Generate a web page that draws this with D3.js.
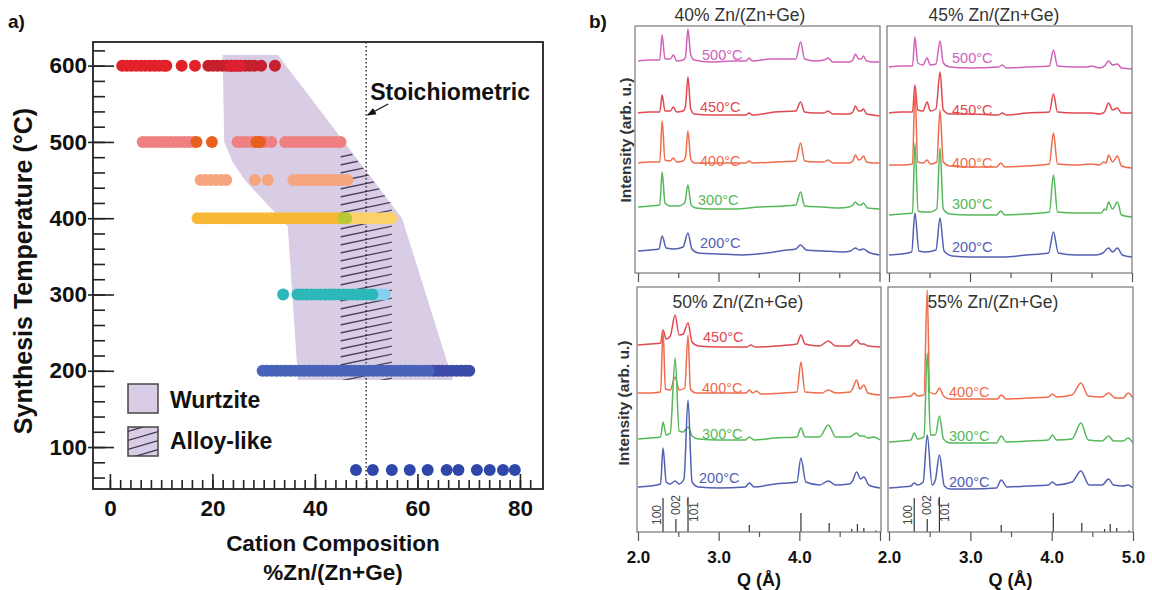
<!DOCTYPE html>
<html><head><meta charset="utf-8">
<script src="https://cdn.jsdelivr.net/npm/d3@7"></script>
<style>body{margin:0;background:#fff}svg{display:block}</style>
</head><body><svg id="c" width="1152" height="590"></svg>
<script>
// ---------------- DATA: panel a) ----------------
const row600Bright = [2.4,3.3,4.2,5.1,6.0,6.9,7.8,8.7,9.6,10.5,11.0,14.0,16.6];
const row600Dark = [19.2,20.1,21.0,21.9,22.8,23.7,24.6,25.5,26.4,27.3,28.2,29.5,32.2];
const row600Mid = [23.5,24.4,25.3];
const row500Salmon = [6.4,7.3,8.2,9.1,10.0,10.9,11.8,12.7,13.6,14.5,15.4,16.3,24.9,25.8,26.7,27.6,28.5,29.4,30.3,31.5,34.2,35.1,36.0,36.9,37.8,38.7,39.6,40.5,41.4,42.3,43.2,44.1,45.0];
const row500Orange = [16.9,19.9,28.6,29.3];
const row450 = [17.7,18.7,19.7,20.7,21.7,22.7,28.3,30.8,35.8,36.7,37.6,38.5,39.4,40.3,41.2,42.1,43.0,43.9,44.8,45.7,46.3];
const row400Gold = [17.1,18.0,18.9,19.8,20.7,21.6,22.5,23.4,24.3,25.2,26.1,27.0,27.9,28.8,29.7,30.6,31.5,32.4,33.3,34.2,35.1,36.0,36.9,37.8,38.7,39.6,40.5,41.4,42.3,43.2,44.1,45.0];
const row400Lime = [45.5,46.1];
const row400Pale = [46.8,47.7,48.6,49.5,50.4,51.3,52.2,53.1,54.0,54.9];
const row300Sky = [52.0,52.8,53.6];
const row300Teal = [33.8,36.6,37.5,38.4,39.3,40.2,41.1,42.0,42.9,43.8,44.7,45.6,46.5,47.4,48.3,49.2,50.1,51.2];
const row200Mid = [29.8,30.7,31.6,32.5,33.4,34.3,35.2,36.1,37.0,37.9,38.8,39.7,40.6,41.5,42.4,43.3,44.2,45.1,46.0,46.9,47.8,48.7,49.6,50.5,51.4,52.3,53.2,54.1,55.0,55.9,56.8,57.7,58.6,59.5,60.4,61.3,62.2];
const row200Deep = [63.1,64.0,64.9,65.8,66.7,67.6,68.5,69.4,70.1];
const row70 = [48.0,51.3,55.0,58.5,62.0,65.7,68.0,71.6,74.1,76.7,79.0];

const wurtziteComp = [22.0,32.8,57.0,66.9,36.7,34.7,26.3,24.0,22.3];
const wurtziteTemp = [614,614,400,188,188,389,450,473,500];
const alloyComp = [45,46.8,55,55,45];
const alloyTemp = [488,488,418,188,188];
const stoichiometric = 50;

const xTicksMajor = [0,20,40,60,80];
const yTicksMajor = [100,200,300,400,500,600];

// ---------------- DATA: panel b) ----------------
const TL_500 = [[2.00,212],[2.15,213],[2.27,213],[2.30,238],[2.335,214],[2.40,214],[2.44,218],[2.48,212],[2.56,213],[2.59,216],[2.62,244],[2.655,218],[2.70,213],[2.90,211],[3.20,212],[3.34,212],[3.38,215],[3.42,212],[3.65,214],[3.96,214],[4.02,231],[4.07,214],[4.20,212],[4.31,213],[4.36,215],[4.42,211],[4.62,211],[4.67,213],[4.70,219],[4.74,214],[4.77,214],[4.80,217],[4.84,212],[4.92,211],[5.00,211]];
const TL_450 = [[2.00,160],[2.15,161],[2.27,161],[2.30,178],[2.335,162],[2.40,162],[2.44,166],[2.48,161],[2.56,162],[2.59,167],[2.62,196],[2.655,164],[2.70,159],[2.90,158],[3.20,158],[3.34,158],[3.38,160],[3.42,158],[3.70,161],[3.96,162],[4.02,171],[4.07,161],[4.20,160],[4.31,160],[4.36,162],[4.42,159],[4.62,159],[4.67,161],[4.70,167],[4.74,162],[4.77,162],[4.80,164],[4.84,159],[4.92,158],[5.00,157]];
const TL_400 = [[2.00,110],[2.15,111],[2.27,111],[2.30,152],[2.335,113],[2.40,112],[2.44,115],[2.48,111],[2.56,112],[2.59,116],[2.62,142],[2.655,114],[2.70,110],[2.90,110],[3.20,110],[3.34,110],[3.38,112],[3.42,110],[3.70,111],[3.96,112],[4.02,130],[4.07,112],[4.20,111],[4.31,111],[4.36,113],[4.42,110],[4.62,110],[4.67,112],[4.70,118],[4.74,113],[4.77,114],[4.80,117],[4.84,111],[4.92,110],[5.00,110]];
const TL_300 = [[2.00,66],[2.15,67],[2.27,68],[2.30,101],[2.335,70],[2.40,67],[2.50,67],[2.58,70],[2.62,88],[2.66,68],[2.72,65],[2.90,64],[3.20,64],[3.50,66],[3.80,67],[3.96,68],[4.02,81],[4.07,67],[4.30,66],[4.50,65],[4.62,66],[4.67,68],[4.70,71],[4.74,68],[4.77,68],[4.80,70],[4.85,65],[5.00,64]];
const TL_200 = [[2.00,22],[2.15,23],[2.26,24],[2.30,37],[2.35,25],[2.45,24],[2.56,26],[2.62,40],[2.67,24],[2.75,20],[3.00,19],[3.30,18],[3.60,20],[3.85,23],[3.96,24],[4.02,28],[4.09,23],[4.30,22],[4.55,21],[4.64,22],[4.70,25],[4.75,23],[4.80,24],[4.86,21],[5.00,18]];

const TR_500 = [[2.00,206],[2.15,207],[2.29,207],[2.32,236],[2.355,210],[2.42,208],[2.47,215],[2.51,208],[2.58,209],[2.63,232],[2.67,210],[2.75,206],[3.00,205],[3.35,206],[3.40,208],[3.45,205],[3.70,206],[3.98,207],[4.03,223],[4.08,207],[4.30,206],[4.45,206],[4.50,207],[4.60,205],[4.66,207],[4.71,212],[4.76,208],[4.82,209],[4.87,205],[5.00,204]];
const TR_450 = [[2.00,160],[2.15,161],[2.29,161],[2.32,188],[2.355,163],[2.42,162],[2.47,171],[2.51,162],[2.58,164],[2.63,201],[2.67,163],[2.75,159],[3.00,159],[3.35,158],[3.40,160],[3.45,158],[3.70,160],[3.98,161],[4.03,179],[4.08,161],[4.30,160],[4.50,160],[4.60,159],[4.66,161],[4.71,170],[4.76,163],[4.82,165],[4.87,160],[5.00,160]];
const TR_400 = [[2.00,108],[2.15,108],[2.29,109],[2.32,183],[2.355,111],[2.42,110],[2.47,113],[2.51,109],[2.59,111],[2.63,163],[2.67,111],[2.75,107],[3.00,106],[3.33,106],[3.38,110],[3.43,106],[3.70,107],[3.98,109],[4.03,140],[4.08,109],[4.30,108],[4.50,109],[4.60,108],[4.65,111],[4.68,110],[4.71,118],[4.76,111],[4.82,117],[4.87,107],[5.00,105]];
const TR_300 = [[2.00,58],[2.15,59],[2.29,60],[2.32,130],[2.36,62],[2.42,61],[2.50,61],[2.59,64],[2.63,125],[2.67,64],[2.75,59],[3.00,58],[3.33,58],[3.38,62],[3.43,58],[3.70,59],[3.98,61],[4.03,98],[4.08,61],[4.30,60],[4.50,60],[4.62,60],[4.66,64],[4.68,63],[4.71,71],[4.76,64],[4.82,71],[4.87,58],[5.00,56]];
const TR_200 = [[2.00,18],[2.15,19],[2.28,21],[2.32,60],[2.37,22],[2.45,21],[2.58,23],[2.63,55],[2.68,22],[2.78,17],[3.00,16],[3.40,16],[3.70,18],[3.97,20],[4.03,41],[4.09,20],[4.30,18],[4.55,18],[4.64,20],[4.71,25],[4.76,21],[4.82,25],[4.88,18],[5.00,16]];

const BL_450 = [[2.00,187],[2.15,188],[2.28,189],[2.31,202],[2.35,193],[2.40,196],[2.46,217],[2.51,197],[2.56,198],[2.62,209],[2.67,190],[2.75,186],[3.00,185],[3.35,185],[3.40,187],[3.45,185],[3.70,186],[3.97,188],[4.02,197],[4.07,188],[4.25,186],[4.36,191],[4.45,186],[4.62,186],[4.71,192],[4.76,188],[4.80,188],[4.85,186],[5.00,185]];
const BL_400 = [[2.00,139],[2.15,139],[2.28,140],[2.31,202],[2.34,143],[2.40,142],[2.46,155],[2.51,142],[2.58,144],[2.62,197],[2.65,143],[2.72,139],[3.00,139],[3.34,139],[3.38,142],[3.42,139],[3.47,141],[3.52,138],[3.80,139],[3.97,140],[4.02,170],[4.07,140],[4.28,139],[4.36,142],[4.45,139],[4.63,140],[4.66,143],[4.71,152],[4.75,143],[4.80,147],[4.85,139],[5.00,137]];
const BL_300 = [[2.00,93],[2.15,94],[2.28,95],[2.31,110],[2.35,97],[2.40,99],[2.46,174],[2.51,101],[2.56,100],[2.62,105],[2.67,96],[2.75,93],[3.00,92],[3.33,92],[3.38,95],[3.44,92],[3.70,94],[3.97,95],[4.02,104],[4.07,95],[4.25,95],[4.36,107],[4.45,95],[4.62,95],[4.71,99],[4.75,96],[4.80,96],[4.85,94],[4.92,95],[5.00,92]];
const BL_200 = [[2.00,45],[2.15,46],[2.28,48],[2.31,84],[2.35,50],[2.40,48],[2.46,51],[2.51,48],[2.57,53],[2.62,132],[2.67,50],[2.75,45],[3.00,44],[3.33,45],[3.38,49],[3.44,45],[3.70,48],[3.97,50],[4.02,74],[4.08,50],[4.25,47],[4.36,51],[4.45,47],[4.62,48],[4.66,51],[4.71,60],[4.76,53],[4.80,55],[4.86,47],[5.00,44]];

const BR_400 = [[2.00,134],[2.15,135],[2.27,136],[2.31,139],[2.35,136],[2.43,137],[2.47,242],[2.50,140],[2.57,138],[2.62,144],[2.67,136],[2.75,133],[3.00,133],[3.33,133],[3.38,137],[3.44,133],[3.70,134],[3.96,135],[4.01,138],[4.06,135],[4.25,137],[4.36,149],[4.45,136],[4.62,135],[4.70,139],[4.78,134],[4.88,134],[4.94,139],[5.00,134]];
const BR_300 = [[2.00,90],[2.15,91],[2.27,92],[2.31,99],[2.35,93],[2.43,95],[2.47,179],[2.51,97],[2.57,97],[2.62,116],[2.67,93],[2.75,89],[3.00,89],[3.32,89],[3.38,96],[3.44,90],[3.70,91],[3.96,92],[4.01,97],[4.06,92],[4.25,93],[4.36,109],[4.45,92],[4.62,91],[4.70,96],[4.76,91],[4.88,91],[4.94,94],[5.00,89]];
const BR_200 = [[2.00,44],[2.15,45],[2.27,46],[2.31,49],[2.35,47],[2.42,50],[2.47,97],[2.53,47],[2.57,52],[2.62,77],[2.68,46],[2.75,43],[3.00,43],[3.32,44],[3.38,52],[3.45,45],[3.70,46],[3.96,47],[4.01,50],[4.06,47],[4.25,50],[4.36,61],[4.46,47],[4.62,47],[4.70,53],[4.76,47],[4.88,46],[4.94,47],[5.00,44]];

const refQ = [2.31,2.47,2.62,3.38,4.02,4.37,4.65,4.72,4.80,4.95];
const refH = [34,13,35,7,19,9,3,8,4,1.5];
const hklQ = [2.31,2.47,2.62];
const hklLabels = ['100','002','10\u0031\u0305'];
const qTicksMajor = [2,3,4,5];
const qTicksMinor = [2.5,3.5,4.5];

// ---------------- DRAWING ----------------
const F = '"Liberation Sans", Arial, Helvetica, sans-serif';
const svg = d3.select('#c');
const defs = svg.append('defs');

// ===== panel a =====
const xL = d3.scaleLinear().domain([-3.3, 84.5]).range([93, 543]);
const yL = d3.scaleLinear().domain([45, 631]).range([489, 42]);
const gL = svg.append('g');

gL.append('polygon')
  .attr('points', wurtziteComp.map((x,i)=>[xL(x), yL(wurtziteTemp[i])].join(',')).join(' '))
  .attr('fill', '#d9cde5');

defs.append('clipPath').attr('id','alloyClip').append('polygon')
  .attr('points', alloyComp.map((x,i)=>[xL(x), yL(alloyTemp[i])].join(',')).join(' '));
const hatch = gL.append('g').attr('clip-path','url(#alloyClip)');
{
  const hx0 = xL(44), hx1 = xL(56), rise = 0.21*(hx1-hx0);
  for (let y = yL(500); y <= yL(170)+rise; y += 8) {
    hatch.append('line').attr('x1',hx0).attr('y1',y).attr('x2',hx1).attr('y2',y-rise)
      .attr('stroke','#4a3f5e').attr('stroke-width',1.3);
  }
}

gL.append('line').attr('x1',xL(stoichiometric)).attr('x2',xL(stoichiometric))
  .attr('y1',yL(631)).attr('y2',yL(45))
  .attr('stroke','#222').attr('stroke-width',1.4).attr('stroke-dasharray','1.4,2.6');

const dotSeries = [
  {temp:600, xs:row600Dark, color:'#c61f2e'},
  {temp:600, xs:row600Bright, color:'#e3212a'},
  {temp:600, xs:row600Mid, color:'#dc2030'},
  {temp:500, xs:row500Salmon, color:'#ef8082'},
  {temp:500, xs:row500Orange, color:'#e8601f'},
  {temp:450, xs:row450, color:'#f5a67f'},
  {temp:400, xs:row400Pale, color:'#fbd16a'},
  {temp:400, xs:row400Gold, color:'#f8b834'},
  {temp:400, xs:row400Lime, color:'#b8c835'},
  {temp:300, xs:row300Sky, color:'#86d0ef'},
  {temp:300, xs:row300Teal, color:'#2db7b9'},
  {temp:200, xs:row200Deep, color:'#3d4ba9'},
  {temp:200, xs:row200Mid, color:'#4764ba'},
  {temp:70, xs:row70, color:'#2f47a9'}
];
dotSeries.forEach(s => {
  gL.append('g').selectAll('circle').data(s.xs).join('circle')
    .attr('cx', d=>xL(d)).attr('cy', yL(s.temp)).attr('r', 6).attr('fill', s.color);
});

// axes
function styleAxis(g, size){
  g.attr('font-family', F).attr('font-size', size).attr('font-weight','bold');
  g.select('.domain').remove();
  g.selectAll('.tick line').attr('stroke','#222').attr('stroke-width',1.6);
  g.selectAll('.tick text').attr('fill','#111');
}
const axXmin = gL.append('g').attr('transform','translate(0,489)')
  .call(d3.axisBottom(xL).tickValues(d3.range(0,84,2)).tickSize(-9).tickFormat(''));
styleAxis(axXmin, 22);
const axX = gL.append('g').attr('transform','translate(0,489)')
  .call(d3.axisBottom(xL).tickValues(xTicksMajor).tickSizeInner(-15).tickSizeOuter(0).tickPadding(11));
styleAxis(axX, 22.5);
const axYmin = gL.append('g').attr('transform','translate(93,0)')
  .call(d3.axisLeft(yL).tickValues(d3.range(60,640,20)).tickSize(-12).tickFormat(''));
styleAxis(axYmin, 22);
const axY = gL.append('g').attr('transform','translate(93,0)')
  .call(d3.axisLeft(yL).tickValues(yTicksMajor).tickSizeInner(-21).tickSizeOuter(0).tickPadding(6));
styleAxis(axY, 22.5);
axY.selectAll('.tick line').attr('x1', -5);

gL.append('rect').attr('x',93).attr('y',42).attr('width',450).attr('height',447)
  .attr('fill','none').attr('stroke','#222').attr('stroke-width',1.8);

// axis titles
const bold = sel => sel.attr('font-family',F).attr('font-weight','bold').attr('fill','#111');
gL.append('text').text('Cation Composition').attr('x',333).attr('y',551).attr('text-anchor','middle').attr('font-size',22.5).call(bold);
gL.append('text').text('%Zn/(Zn+Ge)').attr('x',333).attr('y',580).attr('text-anchor','middle').attr('font-size',22.5).call(bold);
gL.append('text').text('Synthesis Temperature (°C)').attr('transform','translate(32,271) rotate(-90)')
  .attr('text-anchor','middle').attr('font-size',25).call(bold);

// Stoichiometric annotation
gL.append('text').text('Stoichiometric').attr('x', xL(stoichiometric)+4).attr('y',100).attr('font-size',23).call(bold);
defs.append('marker').attr('id','arr').attr('viewBox','0 0 10 10').attr('refX',9).attr('refY',5)
  .attr('markerWidth',7).attr('markerHeight',7).attr('orient','auto')
  .append('path').attr('d','M0,1 L10,5 L0,9 Z').attr('fill','#111');
gL.append('line').attr('x1', xL(54.3)).attr('y1',104).attr('x2', xL(stoichiometric)+1.5).attr('y2',115)
  .attr('stroke','#111').attr('stroke-width',1.3).attr('marker-end','url(#arr)');

// legend
gL.append('rect').attr('x',128).attr('y',384).attr('width',30).attr('height',29)
  .attr('fill','#d9cde5').attr('stroke','#444').attr('stroke-width',1.5);
gL.append('text').text('Wurtzite').attr('x',170).attr('y',400).attr('dominant-baseline','central').attr('font-size',23).call(bold);
defs.append('clipPath').attr('id','legClip').append('rect').attr('x',128).attr('y',427).attr('width',30).attr('height',29);
gL.append('rect').attr('x',128).attr('y',427).attr('width',30).attr('height',29).attr('fill','#d9cde5');
{
  const lg = gL.append('g').attr('clip-path','url(#legClip)');
  for (let y = 432; y < 470; y += 9) {
    lg.append('line').attr('x1',126).attr('y1',y).attr('x2',160).attr('y2',y-10)
      .attr('stroke','#3a3148').attr('stroke-width',1.3);
  }
}
gL.append('rect').attr('x',128).attr('y',427).attr('width',30).attr('height',29)
  .attr('fill','none').attr('stroke','#444').attr('stroke-width',1.5);
gL.append('text').text('Alloy-like').attr('x',170).attr('y',441).attr('dominant-baseline','central').attr('font-size',23).call(bold);

svg.append('text').text('a)').attr('x',8).attr('y',28).attr('font-size',19).call(bold);
svg.append('text').text('b)').attr('x',589).attr('y',28).attr('font-size',19).call(bold);

// ===== panel b =====
const C = {t500:'#d062b8', t450:'#e2474f', t400:'#ef6c4c', t300:'#55b85a', t200:'#5260b2'};
const panels = [
  {id:'tl', title:'40% Zn/(Zn+Ge)', x0:635, x1:880, q0:638, q1:879.5, y0:26, y1:273, tx:740, ty:15, labels:false,
   series:[
     {name:'500°C', data:TL_500, c:C.t500, lx:702, ly:55},
     {name:'450°C', data:TL_450, c:C.t450, lx:700, ly:107},
     {name:'400°C', data:TL_400, c:C.t400, lx:700, ly:161},
     {name:'300°C', data:TL_300, c:C.t300, lx:698, ly:200},
     {name:'200°C', data:TL_200, c:C.t200, lx:700, ly:243}]},
  {id:'tr', title:'45% Zn/(Zn+Ge)', x0:887, x1:1132, q0:889, q1:1132, y0:26, y1:273, tx:994, ty:15, labels:false,
   series:[
     {name:'500°C', data:TR_500, c:C.t500, lx:952, ly:58},
     {name:'450°C', data:TR_450, c:C.t450, lx:952, ly:110},
     {name:'400°C', data:TR_400, c:C.t400, lx:952, ly:163},
     {name:'300°C', data:TR_300, c:C.t300, lx:952, ly:204},
     {name:'200°C', data:TR_200, c:C.t200, lx:952, ly:247}]},
  {id:'bl', title:'50% Zn/(Zn+Ge)', x0:637, x1:881, q0:638, q1:880, y0:287, y1:532, tx:738, ty:302, labels:true, qlab:[2,3,4],
   series:[
     {name:'450°C', data:BL_450, c:C.t450, lx:703, ly:337},
     {name:'400°C', data:BL_400, c:C.t400, lx:702, ly:388},
     {name:'300°C', data:BL_300, c:C.t300, lx:702, ly:434},
     {name:'200°C', data:BL_200, c:C.t200, lx:699, ly:478}]},
  {id:'br', title:'55% Zn/(Zn+Ge)', x0:888, x1:1133, q0:889, q1:1133, y0:287, y1:532, tx:993, ty:302, labels:true, qlab:[2,3,4,5],
   series:[
     {name:'400°C', data:BR_400, c:C.t400, lx:949, ly:392},
     {name:'300°C', data:BR_300, c:C.t300, lx:949, ly:436},
     {name:'200°C', data:BR_200, c:C.t200, lx:949, ly:482}]}
];

panels.forEach(p => {
  const g = svg.append('g');
  const xq = d3.scaleLinear().domain([2,5]).range([p.q0, p.q1]);
  const yi = d3.scaleLinear().domain([0, p.y1-p.y0]).range([p.y1, p.y0]);
  defs.append('clipPath').attr('id','clip-'+p.id).append('rect')
    .attr('x',p.x0).attr('y',p.y0).attr('width',p.x1-p.x0).attr('height',p.y1-p.y0);

  g.append('text').text(p.title).attr('x',p.tx).attr('y',p.ty).attr('text-anchor','middle')
    .attr('dominant-baseline','central').attr('font-family',F).attr('font-size',17.5).attr('fill','#333');

  const line = d3.line().x(d=>xq(d[0])).y(d=>yi(d[1])).curve(d3.curveMonotoneX);
  const tg = g.append('g').attr('clip-path','url(#clip-'+p.id+')');
  p.series.forEach(s => {
    tg.append('path').attr('d', line(s.data)).attr('fill','none').attr('stroke', s.c)
      .attr('stroke-width',1.5).attr('stroke-linejoin','round');
  });
  p.series.forEach(s => {
    g.append('text').text(s.name).attr('x',s.lx).attr('y',s.ly).attr('dominant-baseline','central')
      .attr('font-family',F).attr('font-size',14.5).attr('fill', s.c);
  });

  if (p.labels) {
    g.append('g').selectAll('line').data(refQ).join('line')
      .attr('x1', d=>xq(d)).attr('x2', d=>xq(d))
      .attr('y1', yi(0)).attr('y2', (d,i)=>yi(refH[i]))
      .attr('stroke','#333').attr('stroke-width',1.2);
    const off = [-6, 0, 6];
    const ly = [515, 505, 512];
    hklLabels.forEach((t,i) => {
      g.append('text').text(t)
        .attr('transform', `translate(${xq(hklQ[i])+off[i]},${ly[i]}) rotate(-90)`)
        .attr('text-anchor','middle').attr('dominant-baseline','central')
        .attr('font-family',F).attr('font-size',12).attr('fill','#444');
    });
  }

  g.append('rect').attr('x',p.x0).attr('y',p.y0).attr('width',p.x1-p.x0).attr('height',p.y1-p.y0)
    .attr('fill','none').attr('stroke','#777').attr('stroke-width',1.2);

  const axMin = g.append('g').attr('transform',`translate(0,${p.y1})`)
    .call(d3.axisBottom(xq).tickValues(qTicksMinor).tickSize(5).tickFormat(''));
  axMin.select('.domain').remove();
  axMin.selectAll('.tick line').attr('stroke','#555').attr('stroke-width',1.2);
  const axMaj = g.append('g').attr('transform',`translate(0,${p.y1})`)
    .call(d3.axisBottom(xq).tickValues(qTicksMajor).tickSizeInner(9).tickSizeOuter(0).tickPadding(10)
      .tickFormat(d => (p.labels && p.qlab.includes(d)) ? d3.format('.1f')(d) : ''));
  axMaj.select('.domain').remove();
  axMaj.selectAll('.tick line').attr('stroke','#555').attr('stroke-width',1.2);
  axMaj.attr('font-family',F).attr('font-size',17).attr('font-weight','bold');
  axMaj.selectAll('.tick text').attr('fill','#111');

  if (p.labels) {
    g.append('text').text('Q (Å)').attr('x',(p.x0+p.x1)/2).attr('y',580).attr('text-anchor','middle')
      .attr('dominant-baseline','central').attr('font-size',18).call(bold);
  }
});

// y titles of panel b
svg.append('text').text('Intensity (arb. u.)').attr('transform','translate(625,140) rotate(-90)')
  .attr('text-anchor','middle').attr('dominant-baseline','central').attr('font-size',15.5)
  .attr('font-family',F).attr('font-weight','bold').attr('fill','#333');
svg.append('text').text('Intensity (arb. u.)').attr('transform','translate(623,403) rotate(-90)')
  .attr('text-anchor','middle').attr('dominant-baseline','central').attr('font-size',15.5)
  .attr('font-family',F).attr('font-weight','bold').attr('fill','#333');
</script></body></html>
